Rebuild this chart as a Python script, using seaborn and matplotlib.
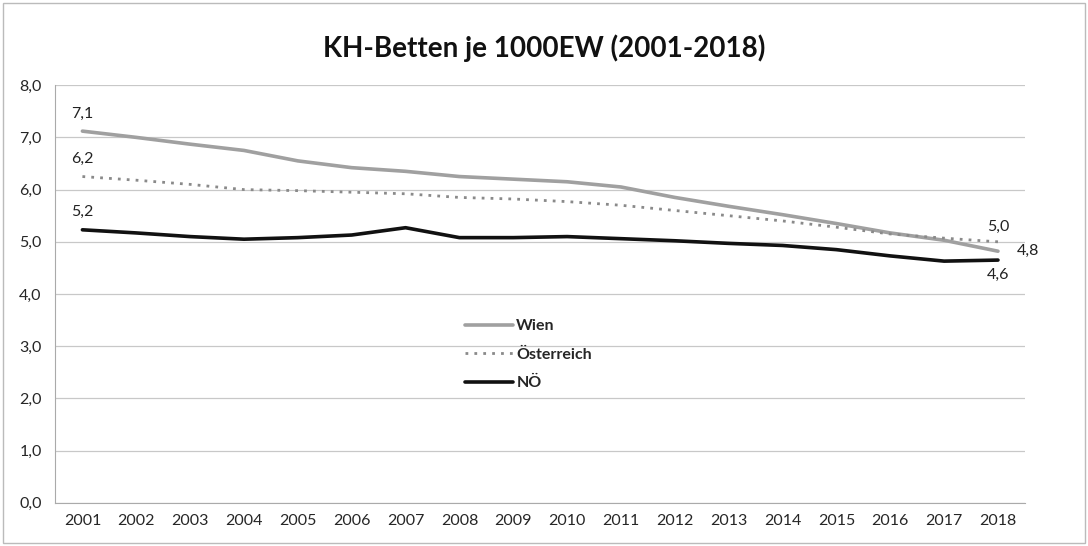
import pandas as pd
import numpy as np
import seaborn as sns
import matplotlib.pyplot as plt
from matplotlib.patches import Rectangle

# Data
years = list(range(2001, 2019))
wien = [7.12, 7.00, 6.87, 6.75, 6.55, 6.42, 6.35, 6.25, 6.20, 6.15, 6.05, 5.85, 5.68, 5.52, 5.35, 5.17, 5.03, 4.82]
oesterreich = [6.25, 6.18, 6.10, 6.00, 5.98, 5.95, 5.92, 5.85, 5.82, 5.77, 5.70, 5.60, 5.50, 5.40, 5.28, 5.15, 5.07, 5.00]
noe = [5.23, 5.17, 5.10, 5.05, 5.08, 5.13, 5.27, 5.08, 5.08, 5.10, 5.06, 5.02, 4.97, 4.93, 4.85, 4.73, 4.63, 4.65]

df = pd.DataFrame({"Jahr": years, "Wien": wien, "Österreich": oesterreich, "NÖ": noe})
long = df.melt(id_vars="Jahr", var_name="Region", value_name="Betten")

sns.set_style("white")
plt.rcParams["font.family"] = ["Lato", "DejaVu Sans"]

fig = plt.figure(figsize=(10.88, 5.46), dpi=100)
ax = fig.add_axes([0.051, 0.079, 0.891, 0.765])

styles = {"Wien": dict(color="#a0a0a0", lw=2.6, ls="-"),
          "Österreich": dict(color="#8a8a8a", lw=2.0, ls=(0, (1, 2.2))),
          "NÖ": dict(color="#111111", lw=2.6, ls="-")}
for name in ["Wien", "Österreich", "NÖ"]:
    sns.lineplot(data=long[long["Region"] == name], x="Jahr", y="Betten", ax=ax,
                 label=name, **styles[name])

ax.set_xlim(2000.5, 2018.5)
ax.set_ylim(0, 8)
ax.set_yticks(np.arange(0, 8.1, 1))
ax.set_yticklabels([f"{v:.1f}".replace(".", ",") for v in np.arange(0, 8.1, 1)], fontsize=11.5)
ax.set_xticks(years)
ax.set_xticklabels([str(y) for y in years], fontsize=11.5)
ax.set_xticks(np.arange(2000.5, 2019, 1), minor=True)
ax.tick_params(axis="x", which="major", length=0, pad=8)
ax.tick_params(axis="x", which="minor", length=4, color="#999999", direction="out")
ax.tick_params(axis="y", length=4, color="#999999", direction="out", pad=6)
ax.grid(axis="y", color="#c8c8c8", lw=0.9)
ax.set_xlabel("")
ax.set_ylabel("")
for s in ["top", "right"]:
    ax.spines[s].set_visible(False)
for s in ["left", "bottom"]:
    ax.spines[s].set_color("#aaaaaa")

# Data labels
lab = dict(fontsize=11.5, color="#222222")
ax.text(2001, wien[0] + 0.2, "7,1", ha="center", va="bottom", **lab)
ax.text(2001, oesterreich[0] + 0.2, "6,2", ha="center", va="bottom", **lab)
ax.text(2001, noe[0] + 0.2, "5,2", ha="center", va="bottom", **lab)
ax.text(2018, oesterreich[-1] + 0.15, "5,0", ha="center", va="bottom", **lab)
ax.text(2018.35, wien[-1] + 0.0, "4,8", ha="left", va="center", **lab)
ax.text(2018, noe[-1] - 0.15, "4,6", ha="center", va="top", **lab)

leg = ax.legend(loc="center", bbox_to_anchor=(0.488, 0.355), frameon=False,
                fontsize=11.5, handlelength=3.0, handletextpad=0.2, labelspacing=0.9)
for t in leg.get_texts():
    t.set_fontweight("bold")

fig.text(0.5, 0.912, "KH-Betten je 1000EW (2001-2018)", ha="center", va="center",
         fontsize=20, fontweight="bold", color="#111111")

fig.patches.append(Rectangle((0.003, 0.005), 0.994, 0.99, transform=fig.transFigure,
                             fill=False, edgecolor="#bbbbbb", lw=1))

fig.savefig("out.png", dpi=100)
